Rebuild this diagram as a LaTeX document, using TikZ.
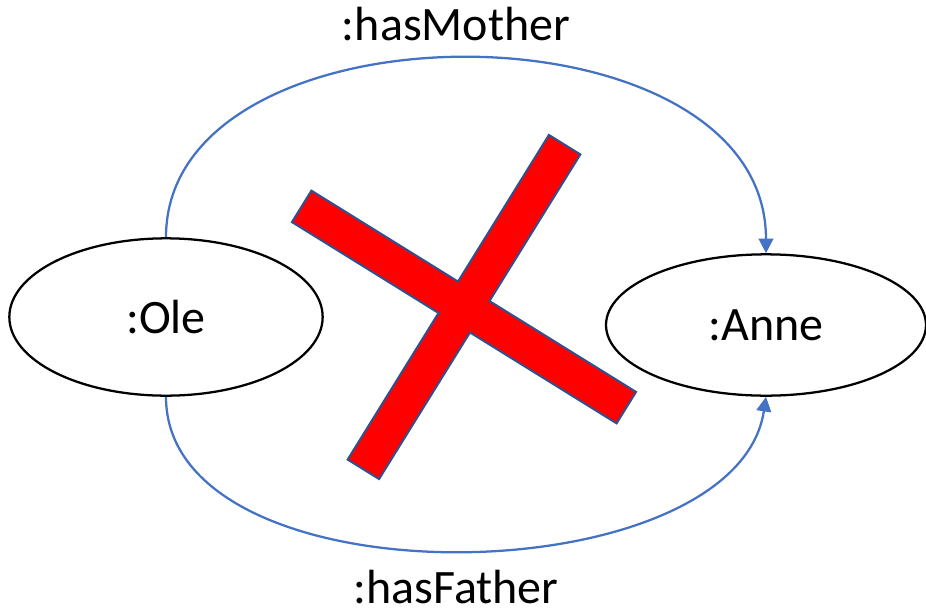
\documentclass[tikz,border=0pt]{standalone}
\usepackage{fontspec}
\setmainfont{Carlito}
\usetikzlibrary{arrows.meta,positioning,shapes.geometric}
\tikzset{
myellipse/.style={
  ellipse,
  line width=1.7pt,
  inner sep=0pt,
  draw=black,
  font=\fontsize{36}{42}\selectfont,
  }
}
\tikzset{
myarrow/.style={
  line width=1.7pt,
  draw={rgb,255:red,68;green,114;blue,196},
  -{Triangle[length=11pt,width=11pt]}
  }
}
\tikzset{
mylabel/.style={
  font=\fontsize{36}{42}\selectfont,
  inner sep=0pt,
  anchor=base,
  }
}

\begin{document}
\begin{tikzpicture}[x=0.75pt,y=-0.75pt]
    \useasboundingbox (0,0) rectangle (926,611);

    % individuals
    \node[myellipse, minimum width=235pt, minimum height=118pt] (ole) at (166,317) {:Ole};
    \node[myellipse, minimum width=240pt, minimum height=106pt] (anne) at (766,325) {:Anne};

    % property labels
    \node[mylabel] (mother) at (456,40) {:hasMother};
    \node[mylabel] (father) at (456,603) {:hasFather};

    % property edges
    \draw[myarrow] (ole.north) .. controls +(0,-241) and +(0,-257) .. (anne.north);
    \draw[myarrow] (ole.south) .. controls +(0,210) and +(-30,200) .. (anne.south);

    % crossed out
    \begin{scope}[shift={(464,307)}, rotate=-31.8]
    \path [draw={rgb,255:red,47;green,82;blue,143}, fill=red, line width=1.5pt]
      (191,18.5) -- (18.5,18.5) -- (18.5,191) -- (-18.5,191) -- (-18.5,18.5) -- (-191,18.5)
      -- (-191,-18.5) -- (-18.5,-18.5) -- (-18.5,-191) -- (18.5,-191) -- (18.5,-18.5) -- (191,-18.5) -- cycle;
    \end{scope}
\end{tikzpicture}
\end{document}
